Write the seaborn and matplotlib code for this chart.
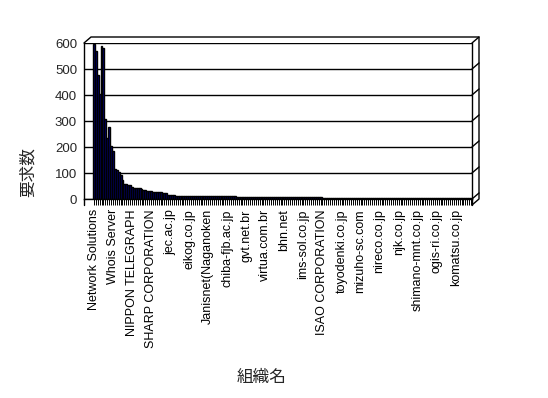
import matplotlib
matplotlib.use("Agg")
import matplotlib.pyplot as plt
from matplotlib.lines import Line2D
import seaborn as sns
import pandas as pd

# request counts per organisation, sorted as in the source chart (199 orgs)
counts = [
    597, 569, 478, 405, 587, 580,
    309, 236, 277, 204, 185,
    116, 113, 105, 93, 74, 58,
    56, 55, 52, 47,
    43, 43, 42, 42,
    39, 36,
    33, 32, 32, 31,
    28, 28, 27, 27, 26,
    24, 23, 22,
    17, 15, 14, 14, 13, 13, 13, 12,
    11, 11, 11, 11, 11, 11, 11, 11, 11, 11, 11,
    10, 10, 10, 10, 10, 10, 10, 10, 10, 10, 10, 10, 10, 10, 10, 10, 10,
    8, 8, 8, 8, 8, 8, 8, 8, 8, 8, 8, 8, 8, 8, 8, 8, 8, 8, 8, 8, 8, 8, 8,
    6, 6, 6, 6, 6, 6, 6, 6, 6, 6, 6, 6, 6, 6, 6, 6, 6, 6, 6, 6, 6, 6,
    5, 5, 5, 5, 5, 5, 5, 5, 5, 5, 5, 5, 5, 5, 5, 5, 5, 5, 5, 5,
    5, 5, 5, 5, 5, 5, 5, 5, 5, 5, 5, 5, 5, 5, 5, 5, 5, 5, 5, 5,
    4, 4, 4, 4, 4, 4, 4, 4, 4, 4, 4, 4, 4, 4, 4, 4, 4, 4, 4, 4,
    4, 4, 4, 4, 4, 4, 4, 4, 4, 4, 4, 4, 4, 4, 4, 4, 4, 4, 4,
]

# only every 10th organisation gets a visible label
org_labels = [
    "Network Solutions", "Whois Server", "NIPPON TELEGRAPH", "SHARP CORPORATION",
    "jec.ac.jp", "eikog.co.jp", "Janisnet(Naganoken", "chiba-fjb.ac.jp",
    "gvt.net.br", "virtua.com.br", "bhn.net", "ims-sol.co.jp",
    "ISAO CORPORATION", "toyodenki.co.jp", "mizuho-sc.com", "nireco.co.jp",
    "njk.co.jp", "shimano-mnt.co.jp", "ogis-ri.co.jp", "komatsu.co.jp",
]
label_step = 10

W, H = 548, 398

sns.set_style("white")
plt.rcParams["font.family"] = ["Liberation Sans", "Noto Sans CJK JP", "DejaVu Sans"]

fig = plt.figure(figsize=(W / 100, H / 100), dpi=100)
ax = fig.add_axes([84 / W, 1 - 199 / H, (472 - 84) / W, (199 - 43) / H])

df = pd.DataFrame({"org": range(len(counts)), "count": counts})
sns.barplot(data=df, x="org", y="count", color="#000080", saturation=1,
            edgecolor="black", linewidth=1.0, width=1.0, ax=ax)

n = len(counts)
ax.set_xlim(-5.2, n - 0.5)
ax.set_ylim(0, 600)
ax.set_yticks(range(0, 601, 100))
ax.yaxis.grid(True, color="black", linewidth=1)
ax.set_axisbelow(True)

tick_text = [""] * n
for i, name in enumerate(org_labels):
    tick_text[i * label_step] = name
ax.set_xticks(range(n))
ax.set_xticklabels(tick_text, rotation=90, fontsize=9)
ax.tick_params(axis="x", bottom=True, length=4.3, width=0.7, direction="out",
               pad=3, colors="black")
ax.tick_params(axis="y", left=False, length=0, pad=5, labelsize=9.5)
ax.set_xlabel("")
ax.set_ylabel("")

for side in ["left", "right", "bottom"]:
    ax.spines[side].set_color("black")
    ax.spines[side].set_linewidth(1)
ax.spines["top"].set_visible(False)


# 3D-looking box edges, in pixel coords of the picture
def edge(xs, ys):
    fig.add_artist(Line2D([x / W for x in xs], [1 - y / H for y in ys],
                          color="black", linewidth=1, transform=fig.transFigure))


edge([84, 91, 479, 479, 472], [43, 37, 37, 199, 205])
edge([84, 84], [199, 205])
edge([472, 472], [199, 205])
for v in range(0, 601, 100):
    y = 199 - v * 156 / 600
    edge([472, 479], [y, y - 6])

fig.text(28 / W, 1 - 172 / H, "要求数", rotation=90, fontsize=12,
         ha="center", va="center")
fig.text(262 / W, 1 - 377 / H, "組織名", fontsize=12, ha="center", va="center")

fig.savefig("out.png", dpi=100, facecolor="white")
